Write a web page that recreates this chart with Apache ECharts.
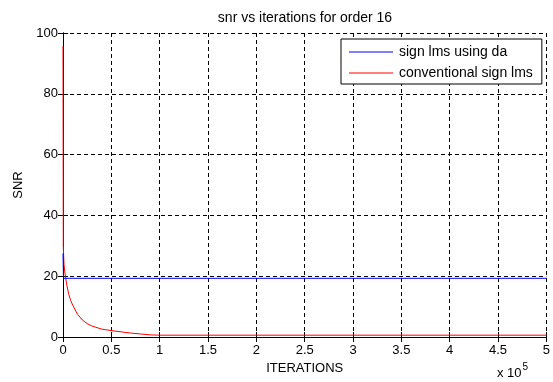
<!DOCTYPE html>
<html>
<head>
<meta charset="utf-8">
<script src="https://cdn.jsdelivr.net/npm/echarts@6/dist/echarts.min.js"></script>
<style>
  html, body { margin: 0; padding: 0; background: #ffffff; }
  #chart { width: 553px; height: 382px; }
</style>
</head>
<body>
<div id="chart"></div>
<script>
// SNR against iteration count (filter order 16)
const titleText = 'snr vs iterations for order 16';
const seriesNames = ['sign lms using da', 'conventional sign lms'];

// x tick labels, shown in units of 10^5 iterations
const xTickLabels = ['0', '0.5', '1', '1.5', '2', '2.5', '3', '3.5', '4', '4.5', '5'];
const yTickLabels = ['0', '20', '40', '60', '80', '100'];

// sign LMS using distributed arithmetic: [iteration, SNR]
const daIterations = [0, 500, 1500, 500000];
const daSnr        = [27.5, 19.3, 19.3, 19.3];

// conventional sign LMS: [iteration, SNR]
const convIterations = [0, 300, 1000, 2000, 4000, 6000, 8000, 10000, 15000, 20000, 25000, 30000,
                        40000, 50000, 60000, 70000, 80000, 90000, 100000, 500000];
const convSnr        = [95.7, 30, 24, 21, 17, 14, 12, 10.5, 7.5, 5.6, 4.4, 3.6,
                        2.6, 2.1, 1.7, 1.3, 1.0, 0.7, 0.6, 0.6];

const pairs = (xs, ys) => xs.map((x, i) => [x, ys[i]]);

const FONT = 'Liberation Sans, Arial, sans-serif';
const chart = echarts.init(document.getElementById('chart'), null, { renderer: 'canvas' });

const gridLine = { show: true, lineStyle: { color: '#000', type: [4, 3], width: 1 } };

chart.setOption({
  backgroundColor: '#ffffff',
  animation: false,
  grid: { left: 63, right: 6, top: 33, bottom: 45, containLabel: false },
  legend: {
    left: 341, top: 39,
    orient: 'vertical',
    data: seriesNames,
    icon: 'rect',
    backgroundColor: '#ffffff',
    borderColor: '#000', borderWidth: 1, borderRadius: 0,
    padding: [5, 9, 3, 8],
    itemWidth: 44, itemHeight: 1, itemGap: 5,
    textStyle: { fontFamily: FONT, fontSize: 14, lineHeight: 16, color: '#000', padding: [0, 0, 0, 1] }
  },
  xAxis: [{
    type: 'value', min: 0, max: 500000, interval: 50000,
    name: 'ITERATIONS', nameLocation: 'middle', nameGap: 24,
    nameTextStyle: { fontFamily: FONT, fontSize: 13, color: '#000' },
    axisLine: { show: true, onZero: false, lineStyle: { color: '#000', width: 1 } },
    axisTick: { show: true, inside: true, length: 5, lineStyle: { color: '#000' } },
    axisLabel: { margin: 7, fontFamily: FONT, fontSize: 13, color: '#000',
      formatter: v => xTickLabels[Math.round(v / 50000)] },
    splitLine: gridLine
  }, {
    type: 'value', min: 0, max: 500000, interval: 50000, position: 'top',
    axisLine: { show: true, lineStyle: { color: '#000', width: 1 } },
    axisTick: { show: true, inside: true, length: 5, lineStyle: { color: '#000' } },
    axisLabel: { show: false }, splitLine: { show: false }
  }],
  yAxis: [{
    type: 'value', min: 0, max: 100, interval: 20,
    name: 'SNR', nameLocation: 'middle', nameGap: 38,
    nameTextStyle: { fontFamily: FONT, fontSize: 13, color: '#000' },
    axisLine: { show: true, onZero: false, lineStyle: { color: '#000', width: 1 } },
    axisTick: { show: true, inside: true, length: 5, lineStyle: { color: '#000' } },
    axisLabel: { margin: 5, fontFamily: FONT, fontSize: 13, color: '#000',
      formatter: v => yTickLabels[Math.round(v / 20)] },
    splitLine: gridLine
  }, {
    type: 'value', min: 0, max: 100, interval: 20, position: 'right',
    axisLine: { show: true, lineStyle: { color: '#000', width: 1 } },
    axisTick: { show: true, inside: true, length: 5, lineStyle: { color: '#000' } },
    axisLabel: { show: false }, splitLine: { show: false }
  }],
  series: [{
    name: seriesNames[0], type: 'line', symbol: 'none',
    xAxisIndex: 0, yAxisIndex: 0,
    data: pairs(daIterations, daSnr),
    lineStyle: { color: '#0000ff', width: 1 }, itemStyle: { color: '#0000ff' },
    z: 3
  }, {
    name: seriesNames[1], type: 'line', symbol: 'none',
    xAxisIndex: 0, yAxisIndex: 0,
    data: pairs(convIterations, convSnr),
    lineStyle: { color: '#ff0000', width: 1 }, itemStyle: { color: '#ff0000' },
    z: 2
  }],
  graphic: [{
    type: 'text', x: 305, y: 18,
    style: { text: titleText, fontFamily: FONT, fontSize: 14, fill: '#000',
      textAlign: 'center', textVerticalAlign: 'middle' }
  }, {
    type: 'text', x: 497, y: 373,
    style: {
      text: '{b|x 10}{s|5}', fill: '#000', textVerticalAlign: 'middle',
      rich: {
        b: { fontFamily: FONT, fontSize: 13, color: '#000', lineHeight: 16 },
        s: { fontFamily: FONT, fontSize: 10, color: '#000', lineHeight: 16, padding: [0, 0, 12, 1] }
      }
    }
  }]
});
</script>
</body>
</html>
